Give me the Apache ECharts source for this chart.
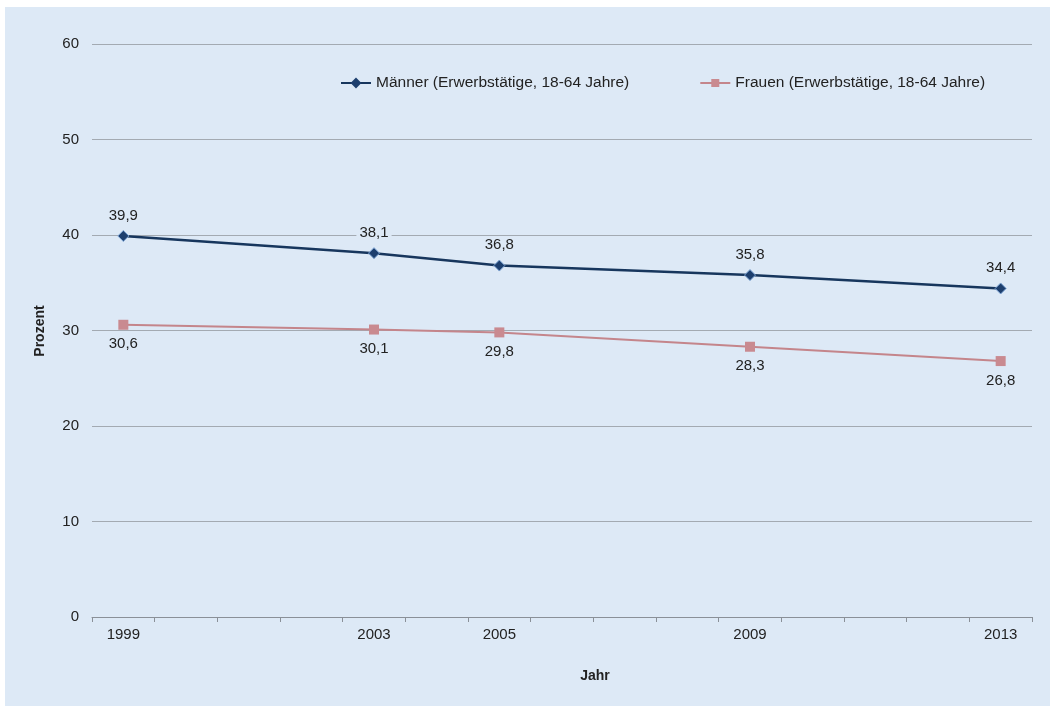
<!DOCTYPE html>
<html>
<head>
<meta charset="utf-8">
<script src="https://cdn.jsdelivr.net/npm/echarts@6/dist/echarts.min.js"></script>
<style>
  html, body { margin: 0; padding: 0; background: #ffffff; }
  #chart { width: 1050px; height: 706px; }
</style>
</head>
<body>
<div id="chart"></div>
<script>
// Years on the axis (one slot per year), and the survey years that carry labels
const years = ['1999','2000','2001','2002','2003','2004','2005','2006','2007','2008','2009','2010','2011','2012','2013'];
const surveyYears = ['1999','2003','2005','2009','2013'];

// Share in percent per survey year
const maenner = [39.9, 38.1, 36.8, 35.8, 34.4];
const frauen  = [30.6, 30.1, 29.8, 28.3, 26.8];

const nameMaenner = 'Männer (Erwerbstätige, 18-64 Jahre)';
const nameFrauen  = 'Frauen (Erwerbstätige, 18-64 Jahre)';

// Spread the survey values over the yearly slots; years without a survey stay empty
function toSlots(values) {
  return years.map(y => {
    const i = surveyYears.indexOf(y);
    return i >= 0 ? values[i] : null;
  });
}

const bg = '#dde9f6';
const font = '"Liberation Sans", Arial, sans-serif';
const textColor = '#222222';

const labelStyle = {
  show: true,
  fontSize: 15,
  color: textColor,
  fontFamily: font,
  backgroundColor: bg,
  padding: [1, 3],
  formatter: p => p.value == null ? '' : p.value.toFixed(1).replace('.', ',')
};

const chart = echarts.init(document.getElementById('chart'), null, { renderer: 'canvas' });

chart.setOption({
  animation: false,
  backgroundColor: '#ffffff',
  textStyle: { fontFamily: font },
  graphic: [
    { type: 'rect', z: -10, silent: true,
      shape: { x: 5, y: 7, width: 1045, height: 699 },
      style: { fill: bg } },
    { type: 'text', x: 595, y: 676,
      style: { text: 'Jahr', fontSize: 14, fontWeight: 'bold', fill: textColor, fontFamily: font,
               textAlign: 'center', textVerticalAlign: 'middle' } },
    { type: 'text', x: 40, y: 331, rotation: Math.PI / 2,
      style: { text: 'Prozent', fontSize: 14, fontWeight: 'bold', fill: textColor, fontFamily: font,
               textAlign: 'center', textVerticalAlign: 'middle' } }
  ],
  legend: {
    left: 335, top: 70,
    itemWidth: 30, itemHeight: 10, itemGap: 70,
    textStyle: { fontSize: 15.5, color: textColor, fontFamily: font },
    data: [
      { name: nameMaenner, itemStyle: { color: '#1d3f6e', borderColor: '#1d3f6e' } },
      { name: nameFrauen }
    ]
  },
  grid: { left: 92, right: 18, top: 44, bottom: 89 },
  xAxis: {
    type: 'category',
    data: years,
    boundaryGap: true,
    axisLine: { lineStyle: { color: '#8a9098', width: 1 } },
    axisTick: { show: true, interval: 0, length: 5, lineStyle: { color: '#8a9098' } },
    axisLabel: {
      interval: (idx, val) => surveyYears.indexOf(val) >= 0,
      fontSize: 15, color: textColor, margin: 10, fontFamily: font
    }
  },
  yAxis: {
    type: 'value',
    min: 0, max: 60, interval: 10,
    axisLine: { show: false },
    axisTick: { show: false },
    axisLabel: { fontSize: 15, color: textColor, margin: 13, fontFamily: font },
    splitLine: { lineStyle: { color: '#a3aab2', width: 1 } }
  },
  series: [
    {
      name: nameMaenner,
      type: 'line',
      data: toSlots(maenner),
      connectNulls: true,
      symbol: 'diamond',
      symbolSize: 11,
      lineStyle: { color: '#17365d', width: 2.5 },
      itemStyle: { color: '#1d3f6e', borderColor: '#7fa6d6', borderWidth: 1 },
      label: Object.assign({}, labelStyle, { position: 'top', distance: 6 }),
      z: 3
    },
    {
      name: nameFrauen,
      type: 'line',
      data: toSlots(frauen),
      connectNulls: true,
      symbol: 'rect',
      symbolSize: 10,
      lineStyle: { color: '#c4858b', width: 2 },
      itemStyle: { color: '#c98a90' },
      label: Object.assign({}, labelStyle, { position: 'bottom', distance: 6 }),
      z: 2
    }
  ]
});
</script>
</body>
</html>
